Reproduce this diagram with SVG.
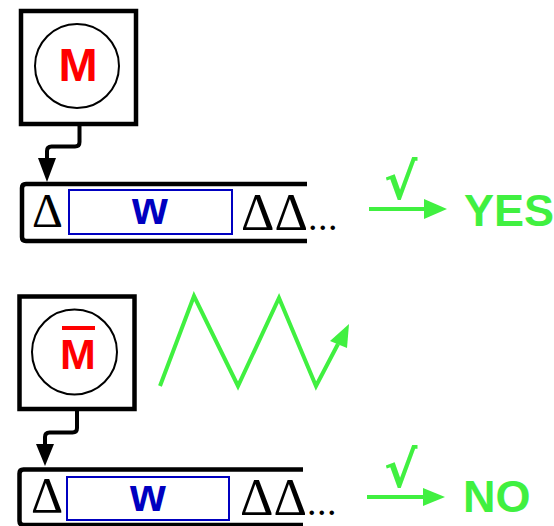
<svg xmlns="http://www.w3.org/2000/svg" width="554" height="526" viewBox="0 0 554 526">
<style>
.box{fill:none;stroke:#000;stroke-width:4.5}
.circ{fill:none;stroke:#000;stroke-width:2}
.m{font-family:"Liberation Sans",Arial,sans-serif;font-weight:bold;fill:#ff0000;text-anchor:middle}
.tape{fill:none;stroke:#000;stroke-width:4.5}
.cell{fill:none;stroke:#0000c0;stroke-width:2}
.w{font-family:"Liberation Sans",Arial,sans-serif;font-weight:bold;font-size:46px;fill:#0000c0;text-anchor:middle}
.sym{font-family:"Liberation Serif","Times New Roman",serif;fill:#000}
.dots{font-family:"Liberation Serif","Times New Roman",serif;font-size:38px;letter-spacing:0.5px}
.conn{fill:none;stroke:#000;stroke-width:4}
.g{fill:none;stroke:#40f040;stroke-width:4}
.gf{fill:#40f040}
.ans{font-family:"Liberation Sans",Arial,sans-serif;font-weight:bold;font-size:45px;fill:#40f040}
.chk{font-family:"DejaVu Sans",sans-serif;font-weight:bold;font-size:50px;fill:#40f040}
</style>
<g id="machine1">
<rect class="box" x="21" y="11" width="115" height="113"/>
<circle class="circ" cx="77" cy="66" r="42"/>
<text class="m" x="78" y="81" font-size="47">M</text>
</g>
<g id="tape1">
<path class="tape" d="M307 184 H26 Q22 184 22 188 V237 Q22 241 26 241 H307"/>
<text class="sym" x="32" y="227" font-size="48">Δ</text>
<rect class="cell" x="69" y="190" width="163" height="44"/>
<text class="w" x="150" y="224">w</text>
<text class="sym" x="241" y="230" font-size="52">ΔΔ<tspan class="dots">...</tspan></text>
</g>
<g id="yes">
<text class="chk" x="384" y="199">√</text>
<text class="ans" x="464" y="226">YES</text>
</g>
<g id="machine2">
<rect class="box" x="19.5" y="296.5" width="115" height="112.5"/>
<circle class="circ" cx="74.5" cy="352" r="42.5"/>
<rect x="62" y="326" width="33" height="4" fill="#ff0000"/>
<text class="m" x="78" y="369" font-size="43">M</text>
</g>
<g id="tape2">
<path class="tape" d="M303 469.5 H23.5 Q19.5 469.5 19.5 473.5 V521 Q19.5 525 23.5 525 H303"/>
<text class="sym" x="31" y="512" font-size="50">Δ</text>
<rect class="cell" x="67" y="477" width="162" height="43"/>
<text class="w" x="148" y="511">w</text>
<text class="sym" x="240" y="515" font-size="52">ΔΔ<tspan class="dots">...</tspan></text>
</g>
<g id="no">
<text class="chk" x="384" y="487">√</text>
<text class="ans" x="463" y="512">NO</text>
</g>
<g id="connectors">
<path class="conn" d="M79.5 124 V142 Q79.5 146.5 75 146.5 H51.5 Q47 146.5 47 151 V162"/>
<polygon points="38,158 56,158 47,182" fill="#000"/>
<path class="conn" d="M77 409 V428 Q77 432.5 72.5 432.5 H49.5 Q45 432.5 45 437 V448"/>
<polygon points="36,444 54,444 45,466" fill="#000"/>
<line class="g" x1="369" y1="209" x2="425" y2="209"/>
<polygon class="gf" points="424,199 447,209 424,219"/>
<line class="g" x1="367" y1="497" x2="425" y2="497"/>
<polygon class="gf" points="423,488 445,497 423,506"/>
<polyline class="g" stroke-width="5" stroke-linejoin="miter" points="160,386 194,296 238,386 279,298 316,386 338,344"/>
<polygon class="gf" points="330,341 349,324 347,348"/>
</g>
</svg>
